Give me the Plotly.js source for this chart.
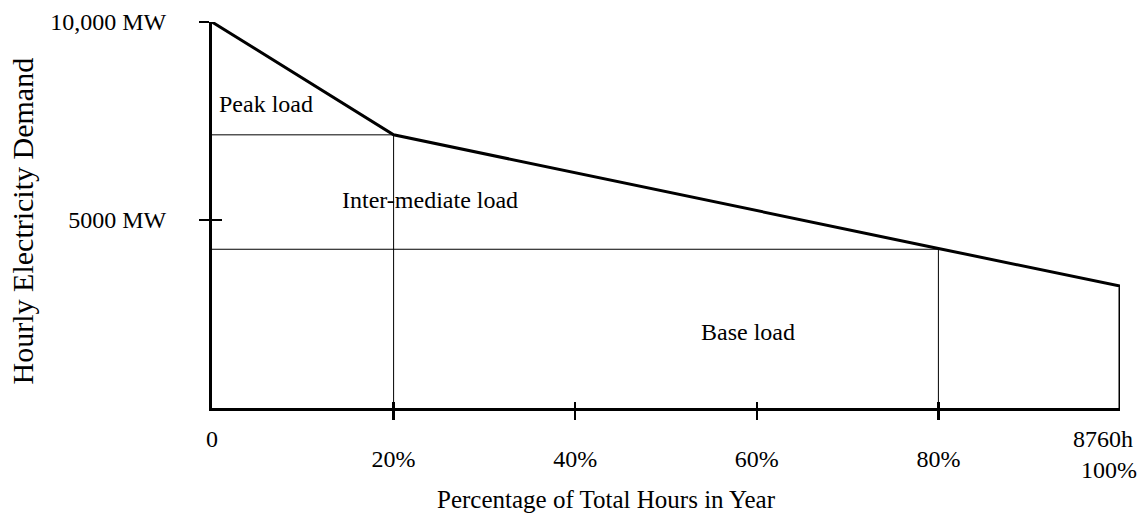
<!DOCTYPE html>
<html><head><meta charset="utf-8">
<script src="https://cdn.plot.ly/plotly-3.0.1.min.js"></script>
<style>html,body{margin:0;padding:0;background:#fff}</style>
</head><body>
<div id="chart" style="width:1141px;height:519px"></div>
<script>
// Load duration curve (percentage of hours vs MW)
const curveX = [0, 20, 80, 100, 100];
const curveY = [10000, 7150, 4280, 3330, 250];
const yMin = 250;
const peakSplitY = 7150;
const baseSplitY = 4260;
const baseSplitX = 80;
const peakSplitX = 20;
const xTickVals = [20, 40, 60, 80];
const xTickText = ["20%", "40%", "60%", "80%"];
const xStartVals = [0];
const xStartText = ["0"];
const xEndVals = [100];
const xEndText = ["8760h<br>  100%"];
const yTickVals = [5000, 10000];
const yTickText = ["5000 MW", "10,000 MW"];
const regionLabels = ["Peak load", "Inter-mediate load", "Base load"];
const regionX = [0.6, 24.0, 59.0];
const regionY = [7930, 5500, 2180];

const F = "Liberation Serif, Times New Roman, serif";
const thin = {color: "#000", width: 1};

const traces = [
  {x: [0, peakSplitX], y: [peakSplitY, peakSplitY], mode: "lines", line: thin},
  {x: [peakSplitX, peakSplitX], y: [yMin, peakSplitY], mode: "lines", line: thin},
  {x: [0, baseSplitX], y: [baseSplitY, baseSplitY], mode: "lines", line: thin},
  {x: [baseSplitX, baseSplitX], y: [yMin, curveY[2]], mode: "lines", line: thin},
  {x: curveX, y: curveY, mode: "lines", line: {color: "#000", width: 3}},
  {x: [0], y: [yMin], xaxis: "x2", yaxis: "y2", mode: "markers", marker: {opacity: 0}, hoverinfo: "skip"},
  {x: [0], y: [yMin], xaxis: "x3", mode: "markers", marker: {opacity: 0}, hoverinfo: "skip"},
  {x: [0], y: [yMin], xaxis: "x4", mode: "markers", marker: {opacity: 0}, hoverinfo: "skip"}
];

const annotations = regionLabels.map((t, i) => ({
  x: regionX[i], y: regionY[i], text: t, showarrow: false,
  xanchor: i === 0 ? "left" : "center", yanchor: "middle",
  font: {family: F, size: 24, color: "#000"}
}));
annotations.push({xref: "paper", yref: "paper", x: 0.434, y: -0.238, text: "Percentage of Total Hours in Year",
  showarrow: false, xanchor: "center", yanchor: "middle", font: {family: F, size: 25, color: "#000"}});
annotations.push({xref: "paper", yref: "paper", x: -0.209, y: 0.484, text: "Hourly Electricity Demand",
  showarrow: false, textangle: -90, xanchor: "center", yanchor: "middle", font: {family: F, size: 30, color: "#000"}});

const endAxis = (vals, text, shift) => ({
  range: [0, 100], overlaying: "x", anchor: "y", tickvals: vals, ticktext: text, ticks: "",
  showgrid: false, zeroline: false, showline: false, ticklabelstandoff: 14, ticklabeloverflow: "allow",
  ticklabelshift: shift, tickfont: {family: F, size: 24}
});

const layout = {
  width: 1141, height: 519,
  margin: {l: 212, r: 21, t: 22, b: 111},
  paper_bgcolor: "#fff", plot_bgcolor: "#fff",
  showlegend: false,
  font: {family: F, size: 24, color: "#000"},
  xaxis: {range: [0, 100], tickvals: xTickVals, ticktext: xTickText, ticks: "outside", ticklen: 9,
    tickwidth: 2.5, tickcolor: "#000", showline: true, linewidth: 3, linecolor: "#000",
    showgrid: false, zeroline: false, ticklabelstandoff: 18, tickfont: {family: F, size: 24}},
  xaxis2: {range: [0, 100], overlaying: "x", anchor: "y", tickvals: xTickVals, ticks: "inside", ticklen: 6,
    tickwidth: 2.5, tickcolor: "#000", showticklabels: false, showgrid: false, zeroline: false, showline: false},
  xaxis3: endAxis(xStartVals, xStartText, 0),
  xaxis4: endAxis(xEndVals, xEndText, -17),
  yaxis: {range: [yMin, 10000], tickvals: yTickVals, ticktext: yTickText, ticks: "outside", ticklen: 10,
    tickwidth: 2.5, tickcolor: "#000", showline: true, linewidth: 3, linecolor: "#000",
    showgrid: false, zeroline: false, ticklabelstandoff: 28, tickfont: {family: F, size: 24}},
  yaxis2: {range: [yMin, 10000], overlaying: "y", anchor: "x", tickvals: [5000], ticks: "inside", ticklen: 10,
    tickwidth: 2.5, tickcolor: "#000", showticklabels: false, showgrid: false, zeroline: false, showline: false},
  annotations: annotations
};

Plotly.newPlot("chart", traces, layout, {displayModeBar: false, staticPlot: true});
</script>
</body></html>
